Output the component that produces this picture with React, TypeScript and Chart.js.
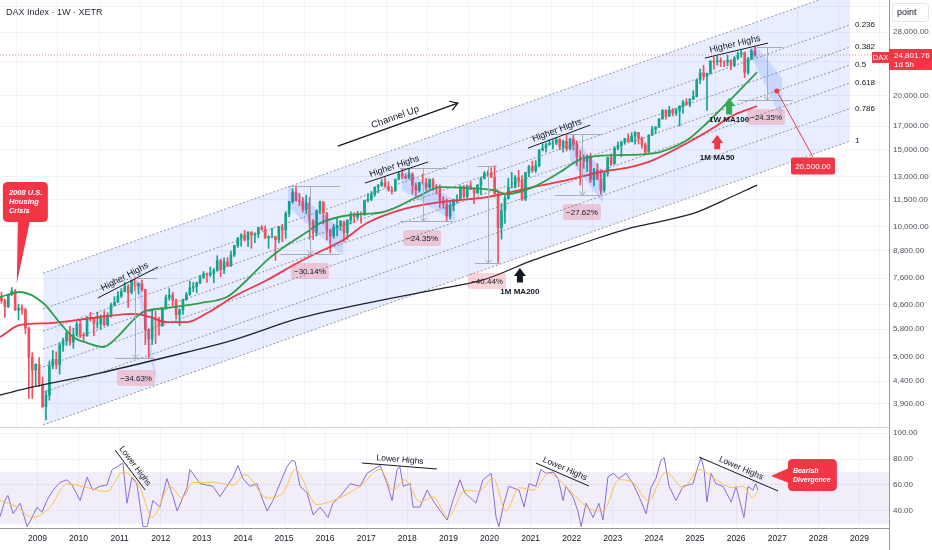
import React, { useEffect, useRef } from "react";
import { Chart, registerables } from "chart.js";

Chart.register(...registerables);

const FONT = '"Liberation Sans", "DejaVu Sans", Arial, sans-serif';
Chart.defaults.font.family = FONT;

// ---------------- axes ----------------
const timeMin = 2008.09;
const timeMax = 2029.72;
const yearTicks = [2009, 2010, 2011, 2012, 2013, 2014, 2015, 2016, 2017, 2018, 2019, 2020, 2021, 2022, 2023, 2024, 2025, 2026, 2027, 2028, 2029];
const priceMin = 3434;
const priceMax = 33190;
const priceTicks = [32000, 28000, 24000, 20000, 17000, 15000, 13000, 11500, 10000, 8800, 7600, 6600, 5800, 5000, 4400, 3900];
const hiddenPriceLabels = [32000, 24000];
const lastPrice = 24801.76;
const rsiMin = 26.92;
const rsiMax = 103.85;
const rsiTicks = [100, 80, 60, 40];
const rsiBandTop = 70;
const rsiBandBottom = 30;

// ---------------- monthly DAX candles (Feb 2008 .. Jun 2026), open = previous close ----------------
const firstYear = 2008;
const firstMonth = 2;
const firstOpen = 6851;
const closes = [
  6748, 6535, 6949, 7097, 6418, 6479, 6422, 5831, 4988, 4669, 4810,
  4338, 3844, 4085, 4770, 4941, 4809, 5332, 5458, 5675, 5415, 5626, 5957,
  5608, 5598, 6154, 6136, 5965, 5966, 6148, 5925, 6229, 6601, 6688, 6914,
  7078, 7272, 7041, 7514, 7294, 7376, 7159, 5785, 5502, 6141, 6089, 5898,
  6458, 6856, 6947, 6761, 6264, 6416, 6772, 6970, 7216, 7260, 7405, 7612,
  7776, 7741, 7795, 7914, 8349, 7959, 8276, 8103, 8594, 9033, 9405, 9552,
  9306, 9692, 9556, 9603, 9943, 9833, 9407, 9470, 9474, 9326, 9980, 9806,
  10694, 11402, 11966, 11454, 11413, 10945, 11309, 10259, 9660, 10850, 11382, 10743,
  9798, 9495, 9966, 10039, 10263, 9680, 10337, 10593, 10511, 10665, 10640, 11481,
  11535, 11834, 12313, 12438, 12615, 12325, 12118, 12056, 12829, 13230, 13024, 12918,
  13189, 12436, 12097, 12612, 12605, 12306, 12806, 12364, 12247, 11448, 11257, 10559,
  11173, 11516, 11526, 12344, 11727, 12399, 12189, 11939, 12428, 12867, 13236, 13249,
  12982, 11890, 9936, 10862, 11587, 12311, 12313, 12945, 12761, 11556, 13291, 13719,
  13433, 13786, 15008, 15136, 15421, 15531, 15544, 15835, 15261, 15689, 15100, 15885,
  15471, 14461, 14415, 14098, 14388, 12784, 13484, 12835, 12114, 13254, 14397, 13924,
  15128, 15365, 15629, 15922, 15664, 16148, 16447, 15947, 15387, 14810, 16215, 16752,
  16904, 17678, 18492, 17932, 18498, 18235, 18509, 18907, 19325, 19078, 19626, 19909,
  21732, 22551, 22163, 22497, 23997, 23909, 24065, 23902, 23881, 24100, 23500, 24400,
  24900, 25100, 22600, 24300, 25300, 24802,
];
const highs = [
  7050, 6800, 6970, 7230, 7150, 6620, 6600, 6480, 5860, 5120, 4830,
  4985, 4500, 4180, 4900, 5180, 5140, 5400, 5530, 5760, 5890, 5830, 6030,
  6090, 5690, 6200, 6340, 6170, 6340, 6250, 6390, 6330, 6660, 6890, 7080,
  7190, 7440, 7340, 7530, 7600, 7420, 7520, 7160, 5810, 6430, 6380, 6180,
  6500, 6950, 7190, 7060, 6810, 6460, 6800, 7050, 7480, 7430, 7450, 7710,
  7870, 7810, 8060, 8000, 8560, 8410, 8460, 8480, 8770, 9050, 9430, 9620,
  9790, 9720, 9730, 9660, 9960, 10050, 10030, 9510, 9890, 9480, 9990, 10090,
  10810, 11410, 12220, 12390, 11920, 11640, 11800, 11670, 10370, 10900, 11430, 11390,
  10750, 9860, 10100, 10480, 10320, 10280, 10350, 10800, 10750, 10830, 10800, 11490,
  11890, 12030, 12320, 12480, 12840, 12950, 12680, 12300, 12860, 13340, 13530, 13190,
  13596, 13300, 12600, 12620, 13200, 12900, 12870, 12890, 12480, 12460, 11700, 11560,
  11340, 11550, 11820, 12400, 12420, 12440, 12660, 12250, 12490, 12990, 13370, 13420,
  13640, 13795, 12110, 11290, 11780, 12910, 13310, 13100, 13460, 13080, 13310, 13820,
  14130, 14170, 15010, 15500, 15570, 15800, 15810, 16030, 15950, 15800, 16290, 15950,
  16285, 15740, 14930, 14620, 14590, 14740, 13600, 13950, 13500, 13340, 14430, 14680,
  15270, 15660, 15710, 15930, 16330, 16430, 16530, 16460, 16050, 15580, 16260, 17000,
  16970, 17700, 18570, 18570, 18890, 18680, 18690, 18960, 19490, 19680, 19680, 20520,
  21800, 23000, 23475, 22520, 24100, 24480, 24640, 24450, 24050, 24770, 24200, 24600,
  25200, 25400, 25200, 24500, 25600, 25860,
];
const lows = [
  6650, 6170, 6500, 6940, 6400, 6090, 6280, 5660, 4015, 4010, 4300,
  4280, 3830, 3589, 3980, 4700, 4700, 4570, 5150, 5320, 5330, 5240, 5590,
  5540, 5430, 5590, 6050, 5600, 5830, 5790, 5900, 5920, 6170, 6560, 6680,
  6850, 7070, 6510, 6990, 7100, 6990, 7080, 5340, 4965, 5340, 5370, 5620,
  5890, 6450, 6760, 6550, 6120, 5910, 6270, 6760, 6940, 7080, 7030, 7380,
  7600, 7430, 7660, 7420, 7880, 7650, 7780, 8080, 8090, 8520, 8940, 9000,
  9240, 8990, 8900, 9170, 9420, 9790, 9380, 8900, 9400, 8350, 9160, 9220,
  9380, 10520, 11300, 11420, 11150, 10790, 10680, 9340, 9320, 9500, 10700, 10120,
  9310, 8700, 9380, 9500, 9790, 9210, 9330, 10120, 10200, 10390, 10170, 10600,
  11380, 11450, 11720, 11940, 12360, 12300, 12050, 11870, 12050, 12790, 12850, 12870,
  12870, 11870, 11730, 11980, 12500, 12100, 12200, 12100, 11870, 11050, 11010, 10280,
  10390, 10860, 11300, 11500, 11620, 11620, 12150, 11270, 11900, 11850, 12860, 13030,
  12950, 11720, 8256, 9340, 10160, 11550, 12250, 12250, 12340, 11450, 11450, 13020,
  13310, 13300, 13700, 14900, 14820, 15380, 15050, 15420, 15000, 14820, 14900, 14990,
  14990, 13800, 12440, 13600, 13380, 12620, 12390, 12800, 11860, 11970, 13040, 13790,
  13900, 15000, 14460, 15480, 15630, 15650, 15450, 15470, 15140, 14630, 14800, 16190,
  16350, 16860, 17640, 17650, 17900, 17950, 18000, 17020, 18210, 19000, 18860, 19560,
  19850, 21300, 21700, 18489, 22400, 23000, 23500, 23300, 23300, 23400, 22950, 23300,
  24200, 24500, 22000, 22400, 24200, 24600,
];

// ---------------- moving averages ----------------
const ma100Time = [2008.09, 2008.58, 2009.14, 2009.55, 2009.87, 2010.21, 2010.60, 2010.94, 2011.33, 2011.57, 2012.15, 2012.96, 2013.61, 2014.10, 2014.59, 2015.07, 2015.56, 2015.88, 2016.61, 2017.41, 2018.24, 2018.80, 2019.45, 2020.09, 2020.43, 2021.06, 2021.72, 2022.28, 2023.10, 2023.83, 2024.15, 2024.81, 2025.29, 2025.78, 2026.09, 2026.51];
const ma100Value = [6875, 7060, 6660, 5990, 5560, 5390, 5275, 5560, 6085, 6350, 6485, 6660, 6875, 7525, 8360, 9055, 9700, 10175, 10620, 10785, 11680, 12315, 12250, 12120, 11865, 12315, 13335, 14360, 14590, 14670, 14825, 15800, 17290, 19220, 20590, 22650];
const ma50Time = [2008.09, 2008.58, 2009.31, 2010.52, 2011.33, 2011.74, 2012.15, 2012.64, 2013.13, 2013.76, 2014.59, 2015.39, 2015.88, 2016.44, 2017.02, 2017.82, 2018.63, 2019.28, 2019.94, 2020.43, 2021.06, 2021.89, 2022.69, 2023.42, 2023.98, 2024.81, 2025.44, 2025.85, 2026.51];
const ma50Value = [5560, 5930, 5990, 6185, 6285, 6185, 6020, 6020, 6315, 6875, 7525, 8300, 8750, 9300, 10175, 10900, 11310, 11495, 11680, 11930, 12315, 12780, 13335, 13690, 14210, 15550, 16835, 17850, 18920];
const ma200Time = [2008.09, 2008.89, 2010.52, 2012.15, 2013.76, 2015.39, 2017.02, 2018.63, 2019.84, 2021.06, 2022.28, 2023.42, 2023.98, 2025.05, 2025.61, 2026.51];
const ma200Value = [4090, 4268, 4595, 5003, 5474, 6152, 6660, 7135, 7525, 8360, 9155, 9910, 10175, 10785, 11375, 12445];

// ---------------- fib channel ----------------
const channelStart = 2009.14;
const channelEnd = 2028.77;
const channelTop = [7800, 35170];
const channelBottom = [3490, 15710];
const fibLevels = [0, 0.236, 0.382, 0.5, 0.618, 0.786, 1];

// ---------------- weekly RSI ----------------
const rsiTime = [2008.09, 2008.21, 2008.28, 2008.41, 2008.58, 2008.75, 2008.87, 2008.99, 2009.11, 2009.23, 2009.38, 2009.55, 2009.72, 2009.84, 2010.04, 2010.21, 2010.35, 2010.52, 2010.69, 2010.82, 2010.94, 2011.08, 2011.18, 2011.30, 2011.42, 2011.57, 2011.67, 2011.81, 2011.98, 2012.15, 2012.30, 2012.40, 2012.64, 2012.71, 2012.96, 2013.27, 2013.44, 2013.61, 2013.76, 2013.88, 2014.00, 2014.17, 2014.34, 2014.49, 2014.59, 2014.73, 2014.90, 2015.07, 2015.19, 2015.27, 2015.39, 2015.56, 2015.71, 2015.88, 2016.07, 2016.19, 2016.36, 2016.61, 2016.85, 2017.02, 2017.17, 2017.34, 2017.51, 2017.63, 2017.75, 2017.82, 2017.90, 2018.07, 2018.14, 2018.31, 2018.48, 2018.63, 2018.80, 2018.97, 2019.11, 2019.28, 2019.40, 2019.67, 2019.84, 2020.04, 2020.16, 2020.23, 2020.35, 2020.47, 2020.72, 2020.84, 2020.96, 2021.13, 2021.25, 2021.37, 2021.55, 2021.67, 2021.79, 2021.86, 2022.03, 2022.15, 2022.23, 2022.35, 2022.52, 2022.66, 2022.76, 2022.88, 2023.01, 2023.15, 2023.32, 2023.49, 2023.64, 2023.81, 2023.93, 2024.05, 2024.17, 2024.25, 2024.37, 2024.54, 2024.71, 2024.95, 2025.07, 2025.15, 2025.22, 2025.29, 2025.39, 2025.51, 2025.68, 2025.88, 2026.00, 2026.19, 2026.29, 2026.41, 2026.48, 2026.53];
const rsiValue = [35.6, 48, 52, 38, 46, 28, 35, 43, 39, 48, 56, 62, 64, 60, 48, 66, 56, 59, 60, 72, 74, 77, 46, 66, 61, 28, 28, 48, 43, 65, 51, 40, 58, 72, 61, 59, 51, 59, 66, 75, 65, 59, 61, 48, 40, 48, 61, 74, 79, 78, 59, 54, 37, 43, 35, 46, 51, 61, 59, 69, 72, 75, 61, 48, 72, 74, 59, 61, 43, 43, 56, 48, 40, 33, 48, 64, 54, 46, 64, 69, 35, 28, 46, 59, 56, 43, 61, 59, 72, 69, 70, 65, 48, 59, 51, 40, 28, 46, 35, 46, 33, 66, 69, 65, 69, 61, 51, 38, 58, 65, 79, 81, 59, 48, 59, 61, 74, 81, 72, 47, 69, 61, 59, 47, 59, 35, 59, 56, 61, 56];
const rsiMaTime = [2008.09, 2008.50, 2008.89, 2009.31, 2009.72, 2010.21, 2010.69, 2011.08, 2011.50, 2011.79, 2012.23, 2012.52, 2012.79, 2013.27, 2013.76, 2014.05, 2014.59, 2014.98, 2015.27, 2015.80, 2016.19, 2016.85, 2017.34, 2017.65, 2017.94, 2018.31, 2018.63, 2018.99, 2019.40, 2019.74, 2020.09, 2020.40, 2020.72, 2021.06, 2021.45, 2021.79, 2022.10, 2022.42, 2022.76, 2023.15, 2023.49, 2023.86, 2024.29, 2024.71, 2025.10, 2025.51, 2025.92, 2026.17, 2026.41, 2026.53];
const rsiMaValue = [48, 43, 35, 43, 61, 58, 55, 70, 58, 35, 59, 50, 62, 62, 60, 68, 50, 54, 72, 45, 48, 59, 72, 56, 64, 47, 51, 35, 56, 55, 65, 40, 58, 56, 69, 61, 51, 42, 40, 64, 62, 48, 70, 58, 72, 64, 58, 59, 50, 55];

// ---------------- drawings (anchored in time / price coordinates) ----------------
const drops = [
  { hi: 7600, lo: 4968, hiFrom: 2011.42, hiTo: 2011.91, loFrom: 2010.89, loTo: 2011.86, at: 2011.37, label: "\u221234.63%", labelT: 2011.40, labelP: 4475,
    band: [[2011.40, 7485], [2011.52, 7327], [2011.93, 4335], [2011.76, 4872]] },
  { hi: 12390, lo: 8656, hiFrom: 2015.10, hiTo: 2016.36, loFrom: 2014.90, loTo: 2016.36, at: 2015.63, label: "\u221230.14%", labelT: 2015.63, labelP: 7890,
    band: [[2015.10, 12445], [2016.44, 9806], [2016.44, 8543], [2015.10, 11077]] },
  { hi: 13596, lo: 10286, hiFrom: 2017.82, hiTo: 2018.97, loFrom: 2017.82, loTo: 2019.11, at: 2018.38, label: "\u221224.35%", labelT: 2018.36, labelP: 9400,
    band: [[2017.87, 13596], [2019.16, 11494], [2019.16, 10230], [2017.87, 12121]] },
  { hi: 13795, lo: 8216, hiFrom: 2019.70, hiTo: 2020.18, loFrom: 2019.65, loTo: 2020.26, at: 2019.96, label: "\u221240.44%", labelT: 2019.94, labelP: 7485, band: null },
  { hi: 16290, lo: 11791, hiFrom: 2021.55, hiTo: 2022.76, loFrom: 2021.59, loTo: 2022.74, at: 2022.25, label: "\u221227.62%", labelT: 2022.25, labelP: 10785,
    band: [[2021.96, 16220], [2022.76, 13475], [2022.76, 11310], [2021.96, 14210]] },
  { hi: 25860, lo: 19563, hiFrom: 2026.51, hiTo: 2027.14, loFrom: 2026.05, loTo: 2027.38, at: 2026.75, label: "\u221224.35%", labelT: 2026.73, labelP: 17848,
    band: [[2026.29, 25450], [2026.51, 25860], [2027.12, 21944], [2027.12, 17565]] },
];
const higherHighs = [
  { from: [2010.47, 6840], to: [2011.93, 8058] },
  { from: [2016.97, 12578], to: [2018.50, 14060] },
  { from: [2020.94, 15143], to: [2022.45, 17105] },
  { from: [2025.24, 24397], to: [2026.78, 26415] },
];
const channelArrow = { from: [2016.31, 15302], to: [2019.23, 19219] };
const maCallouts = [
  { text: "1W MA100", color: "#34a853", t: 2025.83, textP: 17560, tipP: 19734, baseP: 18100 },
  { text: "1M MA50", color: "#f23645", t: 2025.54, textP: 14400, tipP: 16220, baseP: 15050 },
  { text: "1M MA200", color: "#131722", t: 2020.74, textP: 7080, tipP: 8016, baseP: 7430 },
];
const target = { dot: [2026.99, 20500], box: [2027.87, 13765], lineEnd: [2027.87, 14437], text: "20,500.00" };
const crisis = { box: [2008.16, 12645], tip: [2008.50, 7404], lines: ["2008 U.S.", "Housing", "Crisis"] };
const lowerHighs = [
  { from: [2010.89, 86.9], to: [2011.62, 56.2] },
  { from: [2016.90, 76.9], to: [2018.72, 72.3] },
  { from: [2021.13, 76.9], to: [2022.42, 59.2] },
  { from: [2025.10, 81.5], to: [2027.02, 55.4] },
];
const divergence = { box: [2027.26, 80.0], tip: [2026.85, 66.9], lines: ["Bearish", "Divergence"] };

// ---------------- helpers ----------------
const UP = "#14a38b";
const DOWN = "#f4505c";
const INK = "#131722";

function fmt(v: number, digits = 2) {
  const neg = v < 0;
  const [i, f] = Math.abs(v).toFixed(digits).split(".");
  return (neg ? "-" : "") + i.replace(/\B(?=(\d{3})+(?!\d))/g, ",") + (f ? "." + f : "");
}
const zip = (xs: number[], ys: number[]) => xs.map((x, i) => ({ x, y: ys[i] }));
const fibValue = (f: number, end: number) => Math.exp(Math.log(channelTop[end]) * (1 - f) + Math.log(channelBottom[end]) * f);

function buildCandles() {
  return closes.map((c, i) => {
    const idx = firstMonth - 1 + i;
    const t = firstYear + Math.floor(idx / 12) + ((idx % 12) + 0.5) / 12;
    const o = i === 0 ? firstOpen : closes[i - 1];
    return { t, o, h: highs[i], l: lows[i], c };
  });
}

function rr(ctx: any, x: number, y: number, w: number, h: number, r: number) {
  ctx.beginPath();
  ctx.moveTo(x + r, y);
  ctx.lineTo(x + w - r, y);
  ctx.quadraticCurveTo(x + w, y, x + w, y + r);
  ctx.lineTo(x + w, y + h - r);
  ctx.quadraticCurveTo(x + w, y + h, x + w - r, y + h);
  ctx.lineTo(x + r, y + h);
  ctx.quadraticCurveTo(x, y + h, x, y + h - r);
  ctx.lineTo(x, y + r);
  ctx.quadraticCurveTo(x, y, x + r, y);
  ctx.closePath();
}

function lineWithText(ctx: any, x1: number, y1: number, x2: number, y2: number, text: string, font: string, gap: number, width = 1) {
  ctx.strokeStyle = INK;
  ctx.lineWidth = width;
  ctx.beginPath();
  ctx.moveTo(x1, y1);
  ctx.lineTo(x2, y2);
  ctx.stroke();
  const a = Math.atan2(y2 - y1, x2 - x1);
  ctx.save();
  ctx.translate((x1 + x2) / 2, (y1 + y2) / 2);
  ctx.rotate(a);
  ctx.font = font;
  ctx.fillStyle = INK;
  ctx.textAlign = "center";
  ctx.textBaseline = "bottom";
  ctx.fillText(text, 0, -gap);
  ctx.restore();
}

const mainOverlay = {
  id: "mainOverlay",
  afterDatasetsDraw(chart: any) {
    const { ctx, chartArea: ca } = chart;
    const xs = chart.scales.x;
    const ys = chart.scales.y;
    const X = (t: number) => xs.getPixelForValue(t);
    const Y = (p: number) => ys.getPixelForValue(p);
    ctx.save();
    ctx.beginPath();
    ctx.rect(ca.left, ca.top, ca.right - ca.left, ca.bottom - ca.top);
    ctx.clip();

    // correction bands
    ctx.fillStyle = "rgba(41,98,255,0.16)";
    for (const d of drops) {
      if (!d.band) continue;
      ctx.beginPath();
      d.band.forEach((pt: number[], i: number) => (i ? ctx.lineTo(X(pt[0]), Y(pt[1])) : ctx.moveTo(X(pt[0]), Y(pt[1]))));
      ctx.closePath();
      ctx.fill();
    }
    // price range tools
    for (const d of drops) {
      const yh = Math.round(Y(d.hi)) + 0.5;
      const yl = Math.round(Y(d.lo)) + 0.5;
      const xv = Math.round(X(d.at)) + 0.5;
      ctx.strokeStyle = "#a9acb5";
      ctx.lineWidth = 1;
      ctx.beginPath();
      ctx.moveTo(X(d.hiFrom), yh);
      ctx.lineTo(X(d.hiTo), yh);
      ctx.moveTo(X(d.loFrom), yl);
      ctx.lineTo(X(d.loTo), yl);
      ctx.moveTo(xv, yh);
      ctx.lineTo(xv, yl);
      ctx.moveTo(xv - 3, yl - 4);
      ctx.lineTo(xv, yl);
      ctx.lineTo(xv + 3, yl - 4);
      ctx.stroke();
      const cx = X(d.labelT);
      const cy = Y(d.labelP);
      ctx.fillStyle = "rgba(242,54,69,0.22)";
      rr(ctx, cx - 19, cy - 8, 38, 16, 3);
      ctx.fill();
      ctx.fillStyle = INK;
      ctx.font = "8px " + FONT;
      ctx.textAlign = "center";
      ctx.textBaseline = "middle";
      ctx.fillText(d.label, cx, cy + 0.5);
    }

    // higher highs
    for (const h of higherHighs) {
      lineWithText(ctx, X(h.from[0]), Y(h.from[1]), X(h.to[0]), Y(h.to[1]), "Higher Highs", "9px " + FONT, 2);
    }
    // channel up arrow
    {
      const x1 = X(channelArrow.from[0]), y1 = Y(channelArrow.from[1]);
      const x2 = X(channelArrow.to[0]), y2 = Y(channelArrow.to[1]);
      lineWithText(ctx, x1, y1, x2, y2, "Channel Up", "9.5px " + FONT, 3, 1.3);
      const a = Math.atan2(y2 - y1, x2 - x1);
      ctx.strokeStyle = INK;
      ctx.lineWidth = 1.2;
      ctx.beginPath();
      ctx.moveTo(x2 - 9 * Math.cos(a - 0.55), y2 - 9 * Math.sin(a - 0.55));
      ctx.lineTo(x2, y2);
      ctx.lineTo(x2 - 9 * Math.cos(a + 0.55), y2 - 9 * Math.sin(a + 0.55));
      ctx.stroke();
    }

    // MA callouts
    for (const m of maCallouts) {
      const x = X(m.t);
      const yt = Y(m.tipP);
      const yb = Y(m.baseP);
      ctx.fillStyle = m.color;
      ctx.beginPath();
      ctx.moveTo(x, yt);
      ctx.lineTo(x + 6, yt + 8);
      ctx.lineTo(x + 3, yt + 8);
      ctx.lineTo(x + 3, yb);
      ctx.lineTo(x - 3, yb);
      ctx.lineTo(x - 3, yt + 8);
      ctx.lineTo(x - 6, yt + 8);
      ctx.closePath();
      ctx.fill();
      ctx.fillStyle = INK;
      ctx.font = "bold 8px " + FONT;
      ctx.textAlign = "center";
      ctx.textBaseline = "middle";
      ctx.fillText(m.text, x, Y(m.textP));
    }

    // target
    {
      const dx = X(target.dot[0]), dy = Y(target.dot[1]);
      const lx = X(target.lineEnd[0]), ly = Y(target.lineEnd[1]);
      ctx.strokeStyle = "#f23645";
      ctx.lineWidth = 1;
      ctx.beginPath();
      ctx.moveTo(dx, dy);
      ctx.lineTo(lx, ly);
      ctx.stroke();
      ctx.fillStyle = "#f23645";
      ctx.beginPath();
      ctx.arc(dx, dy, 2.5, 0, Math.PI * 2);
      ctx.fill();
      const bx = X(target.box[0]), by = Y(target.box[1]);
      rr(ctx, bx - 22, by - 8.5, 44, 17, 2);
      ctx.fill();
      ctx.fillStyle = "#fff";
      ctx.font = "8px " + FONT;
      ctx.textAlign = "center";
      ctx.textBaseline = "middle";
      ctx.fillText(target.text, bx, by + 0.5);
    }

    // crisis bubble
    {
      const bx = X(crisis.box[0]), by = Y(crisis.box[1]);
      const bw = 45, bh = 40;
      ctx.fillStyle = "#f23645";
      rr(ctx, bx, by, bw, bh, 5);
      ctx.fill();
      ctx.beginPath();
      ctx.moveTo(bx + 15, by + bh - 1);
      ctx.lineTo(bx + 27, by + bh - 1);
      ctx.lineTo(X(crisis.tip[0]), Y(crisis.tip[1]));
      ctx.closePath();
      ctx.fill();
      ctx.fillStyle = "#fff";
      ctx.font = "italic bold 7.5px " + FONT;
      ctx.textAlign = "left";
      ctx.textBaseline = "middle";
      crisis.lines.forEach((s, i) => ctx.fillText(s, bx + 6, by + 11 + i * 8.8));
    }

    // fib labels
    ctx.fillStyle = INK;
    ctx.font = "8px " + FONT;
    ctx.textAlign = "left";
    ctx.textBaseline = "middle";
    for (const f of fibLevels) {
      if (f === 0) continue;
      ctx.fillText(String(f), X(channelEnd) + 5, Y(fibValue(f, 1)));
    }

    // title
    ctx.fillStyle = "#2a2e39";
    ctx.font = "9px " + FONT;
    ctx.fillText("DAX Index \u00b7 1W \u00b7 XETR", 6, 13);
    ctx.restore();

    // panel separator
    ctx.save();
    ctx.strokeStyle = "#d1d4dc";
    ctx.lineWidth = 1;
    ctx.beginPath();
    ctx.moveTo(0, ca.bottom - 0.5);
    ctx.lineTo(ca.right, ca.bottom - 0.5);
    ctx.stroke();

    // right axis overlays
    ctx.fillStyle = "#fff";
    rr(ctx, ca.right + 3.5, 3.5, 36, 18, 3);
    ctx.fill();
    ctx.strokeStyle = "#e0e3eb";
    ctx.stroke();
    ctx.fillStyle = INK;
    ctx.font = "9px " + FONT;
    ctx.textAlign = "left";
    ctx.textBaseline = "middle";
    ctx.fillText("point", ca.right + 8, 13);

    const y0 = Y(lastPrice);
    ctx.fillStyle = "#f23645";
    ctx.fillRect(ca.right - 17, y0 - 3, 17, 11);
    ctx.fillRect(ca.right, y0 - 6, chart.width - ca.right, 21);
    ctx.fillStyle = "#fff";
    ctx.font = "7.5px " + FONT;
    ctx.textAlign = "center";
    ctx.fillText("DAX", ca.right - 8.5, y0 + 2.5);
    ctx.font = "8px " + FONT;
    ctx.textAlign = "left";
    ctx.fillText(fmt(lastPrice), ca.right + 5, y0 + 1);
    ctx.fillText("1d 5h", ca.right + 5, y0 + 10);
    ctx.restore();
  },
};

const rsiOverlay = {
  id: "rsiOverlay",
  afterDatasetsDraw(chart: any) {
    const { ctx, chartArea: ca } = chart;
    const X = (t: number) => chart.scales.x.getPixelForValue(t);
    const Y = (v: number) => chart.scales.y.getPixelForValue(v);
    ctx.save();
    for (const l of lowerHighs) {
      lineWithText(ctx, X(l.from[0]), Y(l.from[1]), X(l.to[0]), Y(l.to[1]), "Lower Highs", "8.5px " + FONT, 2);
    }
    const bx = X(divergence.box[0]), by = Y(divergence.box[1]);
    ctx.fillStyle = "#f23645";
    rr(ctx, bx, by, 49, 32, 5);
    ctx.fill();
    ctx.beginPath();
    ctx.moveTo(bx + 1, by + 9);
    ctx.lineTo(bx + 1, by + 24);
    ctx.lineTo(X(divergence.tip[0]), Y(divergence.tip[1]));
    ctx.closePath();
    ctx.fill();
    ctx.fillStyle = "#fff";
    ctx.font = "italic bold 7px " + FONT;
    ctx.textAlign = "left";
    ctx.textBaseline = "middle";
    divergence.lines.forEach((s, i) => ctx.fillText(s, bx + 5, by + 12 + i * 9));
    ctx.strokeStyle = "#9598a1";
    ctx.lineWidth = 1;
    ctx.beginPath();
    ctx.moveTo(Math.round(ca.right) + 0.5, ca.top);
    ctx.lineTo(Math.round(ca.right) + 0.5, chart.height);
    ctx.stroke();
    ctx.restore();
  },
};

const timeScale = (showLabels: boolean) => ({
  type: "linear",
  min: timeMin,
  max: timeMax,
  offset: false,
  grid: { color: "#f0f3fa", drawTicks: false },
  border: { display: showLabels, color: "#9598a1" },
  ticks: {
    display: showLabels,
    autoSkip: false,
    maxRotation: 0,
    padding: 6,
    color: INK,
    font: { size: 8.5, family: FONT },
    callback: (v: number) => String(v),
  },
  afterBuildTicks: (s: any) => {
    s.ticks = yearTicks.map((v) => ({ value: v }));
  },
  afterFit: (s: any) => {
    s.height = showLabels ? 22 : 0;
    s.paddingLeft = 0;
    s.paddingRight = 0;
  },
});

export default function App() {
  const mainRef = useRef<HTMLCanvasElement>(null);
  const rsiRef = useRef<HTMLCanvasElement>(null);

  useEffect(() => {
    const candles = buildCandles();
    const colors = candles.map((k) => (k.c >= k.o ? UP : DOWN));
    const flat = (data: any, color: string, width: number, order: number, extra: any = {}) => ({
      type: "line",
      data,
      borderColor: color,
      borderWidth: width,
      pointRadius: 0,
      fill: false,
      order,
      ...extra,
    });

    const main = new Chart(mainRef.current as HTMLCanvasElement, {
      type: "bar",
      data: {
        datasets: [
          flat([{ x: channelStart, y: channelTop[0] }, { x: channelEnd, y: channelTop[1] }], "rgba(0,0,0,0)", 0, 40, {
            fill: "+1",
            backgroundColor: "rgba(41,98,255,0.11)",
          }),
          flat([{ x: channelStart, y: channelBottom[0] }, { x: channelEnd, y: channelBottom[1] }], "rgba(0,0,0,0)", 0, 40),
          ...fibLevels.map((f) =>
            flat([{ x: channelStart, y: fibValue(f, 0) }, { x: channelEnd, y: fibValue(f, 1) }], "#8f929b", 1, 35, { borderDash: [2, 2] })
          ),
          flat([{ x: timeMin, y: lastPrice }, { x: timeMax, y: lastPrice }], "rgba(242,54,69,0.6)", 1, 30, { borderDash: [1, 2] }),
          {
            type: "bar",
            data: candles.map((k) => ({ x: k.t, y: [k.l, k.h] })),
            backgroundColor: colors,
            barThickness: 1,
            grouped: false,
            order: 12,
          },
          {
            type: "bar",
            data: candles.map((k) => ({ x: k.t, y: [Math.min(k.o, k.c), Math.max(k.o, k.c)] })),
            backgroundColor: colors,
            barThickness: 2,
            grouped: false,
            order: 11,
          },
          flat(zip(ma200Time, ma200Value), "#1e222d", 1.3, 3, { cubicInterpolationMode: "monotone" }),
          flat(zip(ma50Time, ma50Value), "#f23645", 1.8, 2, { cubicInterpolationMode: "monotone" }),
          flat(zip(ma100Time, ma100Value), "#2e9e4a", 1.8, 1, { cubicInterpolationMode: "monotone" }),
        ],
      } as any,
      options: {
        responsive: false,
        maintainAspectRatio: false,
        animation: false,
        events: [],
        layout: { padding: 0 },
        plugins: { legend: { display: false }, tooltip: { enabled: false }, title: { display: false } },
        scales: {
          x: timeScale(false),
          y: {
            type: "logarithmic",
            position: "right",
            min: priceMin,
            max: priceMax,
            grid: { color: "#f0f3fa", drawTicks: false },
            border: { display: true, color: "#9598a1" },
            ticks: {
              autoSkip: false,
              padding: 4,
              color: "#50535e",
              font: { size: 8, family: FONT },
              callback: (v: number) => (hiddenPriceLabels.includes(v) ? "" : fmt(v)),
            },
            afterBuildTicks: (s: any) => {
              s.ticks = priceTicks.map((v) => ({ value: v }));
            },
            afterFit: (s: any) => {
              s.width = 43;
              s.paddingTop = 0;
              s.paddingBottom = 0;
            },
          },
        },
      } as any,
      plugins: [mainOverlay],
    });

    const rsi = new Chart(rsiRef.current as HTMLCanvasElement, {
      type: "line",
      data: {
        datasets: [
          flat([{ x: timeMin, y: rsiBandTop }, { x: timeMax, y: rsiBandTop }], "rgba(0,0,0,0)", 0, 20, {
            fill: "+1",
            backgroundColor: "rgba(126,87,194,0.1)",
          }),
          flat([{ x: timeMin, y: rsiBandBottom }, { x: timeMax, y: rsiBandBottom }], "rgba(0,0,0,0)", 0, 20),
          flat(zip(rsiTime, rsiValue), "#8c6bd1", 1, 2),
          flat(zip(rsiMaTime, rsiMaValue), "#f9c440", 1, 1, { cubicInterpolationMode: "monotone" }),
        ],
      } as any,
      options: {
        responsive: false,
        maintainAspectRatio: false,
        animation: false,
        events: [],
        layout: { padding: 0 },
        plugins: { legend: { display: false }, tooltip: { enabled: false } },
        scales: {
          x: timeScale(true),
          y: {
            type: "linear",
            position: "right",
            min: rsiMin,
            max: rsiMax,
            grid: { color: "#f0f3fa", drawTicks: false },
            border: { display: true, color: "#9598a1" },
            ticks: {
              autoSkip: false,
              padding: 4,
              color: "#50535e",
              font: { size: 8, family: FONT },
              callback: (v: number) => fmt(v),
            },
            afterBuildTicks: (s: any) => {
              s.ticks = rsiTicks.map((v) => ({ value: v }));
            },
            afterFit: (s: any) => {
              s.width = 43;
              s.paddingTop = 0;
              s.paddingBottom = 0;
            },
          },
        },
      } as any,
      plugins: [rsiOverlay],
    });

    return () => {
      main.destroy();
      rsi.destroy();
    };
  }, []);

  return (
    <div style={{ position: "fixed", left: 0, top: 0, width: 932, height: 550, background: "#fff", overflow: "hidden" }}>
      <canvas ref={mainRef} width={932} height={428} style={{ position: "absolute", left: 0, top: 0, width: 932, height: 428 }} />
      <canvas ref={rsiRef} width={932} height={122} style={{ position: "absolute", left: 0, top: 428, width: 932, height: 122 }} />
    </div>
  );
}
